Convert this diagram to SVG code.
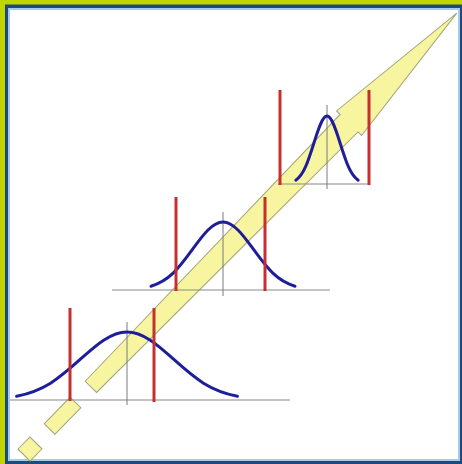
<svg xmlns="http://www.w3.org/2000/svg" width="462" height="464" viewBox="0 0 462 464">
<style>
.arrow{fill:#f7f5a0;stroke:#a4a47a;stroke-width:1}
.bell{fill:none;stroke:#1e1e9a;stroke-width:3;stroke-linecap:round}
.limit{stroke:#c4302e;stroke-width:3}
.axis{stroke:#8a8a8a;stroke-width:1.2}
.mean{stroke:#7a7a7a;stroke-width:1}
</style>
<g id="frame">
<rect x="0" y="0" width="462" height="464" fill="#c0d600"/>
<rect x="5" y="4.5" width="457" height="459.5" fill="#1c4a80"/>
<rect x="9" y="9" width="450" height="451" fill="#ffffff" stroke="#a9c9e8" stroke-width="2"/>
</g>
<g id="arrow" transform="translate(30,449) rotate(-45.6)">
<rect class="arrow" x="-8.5" y="-8.5" width="17" height="17"/>
<rect class="arrow" x="28" y="-7.5" width="37" height="15"/>
<polygon class="arrow" points="87,-8 456,-12.5 456,-17.5 610,0 456,17.5 456,12.5 87,8"/>
</g>
<g id="stage-1">
<line class="axis" x1="10" y1="400" x2="290" y2="400"/>
<line class="mean" x1="127" y1="322" x2="127" y2="405"/>
<path class="bell" d="M16.6,396.2 C44.2,390.7 58,379.4 81,358.7 C96.2,345.1 110.9,332 127,332 C143.1,332 157.8,345.1 173,358.7 C196,379.4 209.8,390.7 237.4,396.2"/>
<line class="limit" x1="70" y1="308" x2="70" y2="401"/>
<line class="limit" x1="154" y1="308" x2="154" y2="402"/>
</g>
<g id="stage-2">
<line class="axis" x1="112" y1="290" x2="330" y2="290"/>
<line class="mean" x1="223" y1="212" x2="223" y2="296"/>
<path class="bell" d="M151,286.2 C169,280.7 178,269.4 193,248.7 C202.9,235.1 212.5,222 223,222 C233.5,222 243.1,235.1 253,248.7 C268,269.4 277,280.7 295,286.2"/>
<line class="limit" x1="176" y1="197" x2="176" y2="291"/>
<line class="limit" x1="265" y1="197" x2="265" y2="291"/>
</g>
<g id="stage-3">
<line class="axis" x1="278" y1="184" x2="370" y2="184"/>
<line class="mean" x1="327" y1="105" x2="327" y2="189"/>
<path class="bell" d="M295.8,180.2 C303.6,174.7 307.5,163.4 314,142.7 C318.3,129.1 322.45,116 327,116 C331.55,116 335.7,129.1 340,142.7 C346.5,163.4 350.4,174.7 358.2,180.2"/>
<line class="limit" x1="280" y1="90" x2="280" y2="185"/>
<line class="limit" x1="369" y1="90" x2="369" y2="185"/>
</g>
</svg>
